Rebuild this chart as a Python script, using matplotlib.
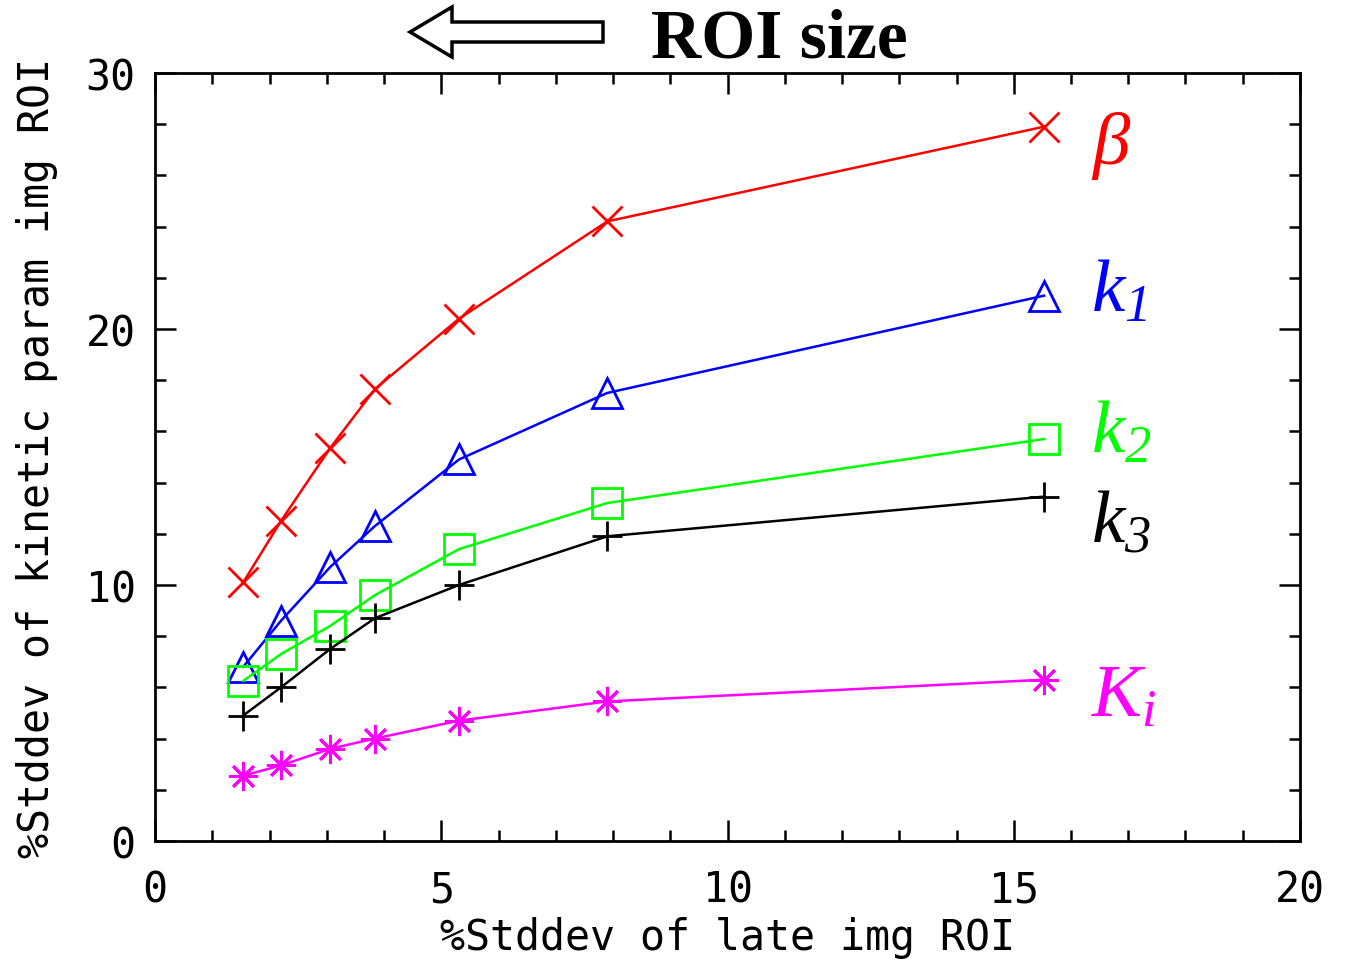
import matplotlib
matplotlib.use("Agg")
import matplotlib.pyplot as plt
from matplotlib.patches import Polygon
from matplotlib.ticker import MultipleLocator

plt.rcParams['mathtext.fontset'] = 'custom'
plt.rcParams['mathtext.rm'] = 'Liberation Serif:italic'
plt.rcParams['mathtext.it'] = 'Liberation Serif:italic'

# late image ROI %stddev (x) and kinetic parameter %stddev (y)
late_std = [1.54, 2.2, 3.06, 3.84, 5.31, 7.9, 15.53]
beta = [10.1, 12.5, 15.35, 17.65, 20.4, 24.2, 27.9]
k1 = [6.8, 8.6, 10.7, 12.3, 14.9, 17.5, 21.3]
k2 = [6.25, 7.3, 8.4, 9.6, 11.4, 13.2, 15.7]
k3 = [4.9, 6.0, 7.5, 8.7, 10.0, 11.9, 13.45]
ki = [2.55, 2.95, 3.6, 4.0, 4.7, 5.45, 6.3]

series = [
    (beta, 'x', '#ff0000', r'$\beta$', 27.2),
    (k1, '^', '#0000ff', r'$k_{1}$', 21.5),
    (k2, 's', '#00ff00', r'$k_{2}$', 16.0),
    (k3, '+', '#000000', r'$k_{3}$', 12.5),
    (ki, (8, 2, 0), '#ff00ff', r'$K_i$', 5.7),
]

fig = plt.figure(figsize=(13.47, 9.7), dpi=100)
ax = fig.add_axes([0.1151, 0.132, 0.85, 0.7918])

for vals, mk, col, lab, ly in series:
    ax.plot(late_std, vals, color=col, lw=1.8, marker=mk, markersize=21,
            markerfacecolor='none', markeredgecolor=col, markeredgewidth=2)
    ax.text(16.35, ly, lab, color=col, fontsize=54, va='center', ha='left')

ax.set_xlim(0, 20)
ax.set_ylim(0, 30)
ax.xaxis.set_major_locator(MultipleLocator(5))
ax.xaxis.set_minor_locator(MultipleLocator(1))
ax.yaxis.set_major_locator(MultipleLocator(10))
ax.yaxis.set_minor_locator(MultipleLocator(2))
ax.tick_params(which='both', direction='in', top=True, right=True, width=1.8)
ax.tick_params(which='major', length=15, labelsize=30)
ax.tick_params(axis='x', which='major', pad=20)
ax.tick_params(axis='y', which='major', pad=14)
ax.tick_params(which='minor', length=8)
for lbl in ax.get_xticklabels() + ax.get_yticklabels():
    lbl.set_fontfamily('DejaVu Sans Mono')
for sp in ax.spines.values():
    sp.set_linewidth(2)

ax.set_xlabel('%Stddev of late img ROI', fontsize=30, family='DejaVu Sans Mono', labelpad=4)
ax.set_ylabel('%Stddev of kinetic param img ROI', fontsize=30, family='DejaVu Sans Mono', labelpad=20)

# hollow arrow + "ROI size" header
W, H = 1347.0, 970.0
pts = [(410, 33), (452, 8), (452, 23), (603, 23), (603, 43), (452, 43), (452, 58)]
arrow = Polygon([(x / W, 1 - y / H) for x, y in pts], closed=True, fill=False,
                edgecolor='black', lw=2.5, transform=fig.transFigure)
fig.patches.append(arrow)
fig.text(779 / W, 1 - 40 / H, 'ROI size', family='Liberation Serif', weight='bold',
         fontsize=50, ha='center', va='center')

fig.savefig('out.png', dpi=100)
